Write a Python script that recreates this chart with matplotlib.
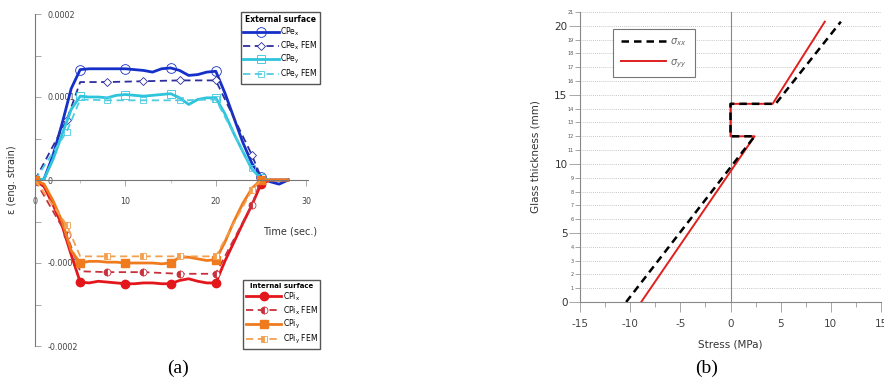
import numpy as np
import matplotlib
matplotlib.use("Agg")
import matplotlib.pyplot as plt

plt.rcParams['font.family'] = ['DejaVu Sans']
plt.rcParams['mathtext.default'] = 'regular'
plt.rcParams['axes.unicode_minus'] = False

# ---- panel (a) data : strain vs time ----
t_meas = list(range(29))
cpe_x = [0, 0.000001, 0.00003, 0.000068, 0.00011, 0.000133, 0.000134, 0.000134, 0.000134, 0.000134,
         0.000134, 0.000133, 0.000132, 0.00013, 0.000134, 0.000135, 0.000132, 0.000126, 0.000127, 0.00013,
         0.000131, 0.000105, 0.000075, 0.000045, 0.00002, 0.000004, -0.000002, -0.000005, 0]
cpe_y = [0, 0.000001, 0.000025, 0.000055, 0.000085, 0.000101, 0.0001, 0.0001, 0.000099, 0.000102,
         0.000103, 0.000102, 0.000101, 0.000102, 0.000103, 0.000104, 0.000099, 0.000091, 0.000097, 0.000099,
         0.000099, 0.00008, 0.000056, 0.000034, 0.000013, 0.000002, 0, 0, 0]
cpi_x = [0, -0.000008, -0.00003, -0.000055, -0.00009, -0.000123, -0.000124, -0.000122, -0.000123, -0.000124,
         -0.000125, -0.000125, -0.000124, -0.000124, -0.000125, -0.000125, -0.000121, -0.000119, -0.000122, -0.000124,
         -0.000124, -0.000098, -0.000075, -0.000052, -0.00003, -0.000005, 0, 0, 0]
cpi_y = [0, -0.000005, -0.000025, -0.00005, -0.000085, -0.0001, -0.000098, -0.000098, -0.000099, -0.000099,
         -0.0001, -0.0001, -0.0001, -0.0001, -0.000101, -0.0001, -0.000093, -0.000093, -0.000095, -0.000097,
         -0.000096, -0.000075, -0.00005, -0.000028, -0.00001, 0, 0, 0, 0]

t_fem = [0, 3.5, 5, 8, 12, 16, 20, 24, 25]
cpe_x_fem = [0, 0.000072, 0.000118, 0.000118, 0.000119, 0.00012, 0.00012, 0.00003, 0.000003]
cpe_y_fem = [0, 0.000058, 0.000097, 0.000096, 0.000096, 0.000096, 0.000097, 0.000014, 0]
cpi_x_fem = [0, -0.000066, -0.00011, -0.000111, -0.000111, -0.000113, -0.000113, -0.00003, 0]
cpi_y_fem = [0, -0.000054, -0.000092, -0.000092, -0.000092, -0.000092, -0.000092, -0.000012, 0]

# ---- panel (b) data : stress through glass thickness ----
thick = [0, 12, 12, 14.35, 14.35, 20.3]
sigma_xx = [-10.4, 2.4, 0, 0, 4.5, 11.0]
sigma_yy = [-8.9, 2.4, 0, 0, 4.2, 9.4]

W, H = 884, 383
fig = plt.figure(figsize=(W / 100, H / 100), dpi=100)

# ================= (a) =================
axa = fig.add_axes([35 / W, 1 - 346 / H, 273 / W, 332 / H])
axa.set_xlim(0, 30.2)
axa.set_ylim(-0.0002, 0.0002)
for s in ['top', 'right']:
    axa.spines[s].set_visible(False)
axa.spines['bottom'].set_position(('data', 0))
for s in ['left', 'bottom']:
    axa.spines[s].set_color('#777777')
    axa.spines[s].set_linewidth(0.8)
axa.set_axisbelow(True)

fem_marks = [1, 3, 4, 5, 6, 7]
blue, navy, cyan, cyan2 = '#1530C8', '#2E2E9E', '#2EC4DC', '#4FCDE3'
red, red2, orange, orange2 = '#E3161B', '#C8303C', '#F07B1E', '#F2A04E'

axa.plot(t_meas, cpe_x, color=blue, lw=2.0, marker='o', ms=7, mfc='none', mew=0.6,
         markevery=5, label='CPe$_x$')
axa.plot(t_fem, cpe_x_fem, color=navy, lw=1.3, ls=(0, (4, 2.5)), marker='D', ms=4, mfc='white',
         mew=0.6, markevery=fem_marks, label='CPe$_x$ FEM')
axa.plot(t_meas, cpe_y, color=cyan, lw=2.0, marker='s', ms=6, mfc='none', mew=0.6,
         markevery=5, label='CPe$_y$')
axa.plot(t_fem, cpe_y_fem, color=cyan2, lw=1.3, ls=(0, (4, 2.5)), marker='s', ms=5, mfc='none',
         mew=0.6, markevery=fem_marks, label='CPe$_y$ FEM')

l_int = []
l_int += axa.plot(t_meas, cpi_x, color=red, lw=2.0, marker='o', ms=6, markevery=5, label='CPi$_x$')
l_int += axa.plot(t_fem, cpi_x_fem, color=red2, lw=1.3, ls=(0, (4, 2.5)), marker='o', ms=5,
                  fillstyle='left', mfcalt='white', mew=0.6, markevery=fem_marks, label='CPi$_x$ FEM')
l_int += axa.plot(t_meas, cpi_y, color=orange, lw=2.0, marker='s', ms=6, markevery=5, label='CPi$_y$')
l_int += axa.plot(t_fem, cpi_y_fem, color=orange2, lw=1.3, ls=(0, (4, 2.5)), marker='s', ms=5,
                  fillstyle='left', mfcalt='white', mew=0.6, markevery=fem_marks, label='CPi$_y$ FEM')

axa.set_yticks([-0.0002, -0.0001, 0, 0.0001, 0.0002],
               labels=['-0.0002', '-0.0001', '0', '0.0001', '0.0002'])
axa.set_yticks([-0.00015, -0.00005, 0.00005, 0.00015], minor=True)
axa.tick_params(axis='y', which='both', direction='in', length=4, width=0.6, color='#999999',
                pad=-9, labelsize=5.8, labelcolor='#444444')
for lb in axa.get_yticklabels():
    lb.set_horizontalalignment('left')
axa.set_xticks([0, 10, 20, 30])
axa.set_xticks([5, 15, 25], minor=True)
axa.tick_params(axis='x', which='major', direction='out', length=4, width=0.6, color='#999999',
                pad=8, labelsize=5.8, labelcolor='#444444')
axa.tick_params(axis='x', which='minor', direction='out', length=2, width=0.6, color='#bbbbbb')

axa.set_xlabel('Time (sec.)', fontsize=7, color='#333333')
axa.xaxis.set_label_coords(0.934, 0.36)
axa.set_ylabel('ε (eng. strain)', fontsize=7, color='#333333')
axa.yaxis.set_label_coords(-0.065, 0.5)

leg_kw = dict(loc='upper right', fontsize=5.5, handlelength=4.6, handletextpad=0.2,
              labelspacing=0.2, borderpad=0.35, fancybox=False, edgecolor='#555555',
              framealpha=1, borderaxespad=0)
h_ext, lab_ext = axa.get_legend_handles_labels()
leg1 = axa.legend(h_ext[:4], lab_ext[:4], title='External surface', bbox_to_anchor=(1.045, 1.006),
                  title_fontproperties={'weight': 'bold', 'size': 5.5}, **leg_kw)
leg1.get_frame().set_linewidth(1.0)
axa.add_artist(leg1)
leg2 = axa.legend(l_int, [l.get_label() for l in l_int], title='Internal surface',
                  bbox_to_anchor=(1.045, 0.199),
                  title_fontproperties={'weight': 'bold', 'size': 5}, **leg_kw)
leg2.get_frame().set_linewidth(1.0)

# ================= (b) =================
axb = fig.add_axes([580 / W, 1 - 302 / H, 301 / W, 290 / H])
axb.set_xlim(-15, 15)
axb.set_ylim(0, 21)
for s in ['top', 'right']:
    axb.spines[s].set_visible(False)
for s in ['left', 'bottom']:
    axb.spines[s].set_color('#888888')
    axb.spines[s].set_linewidth(0.8)

major_y = [0, 5, 10, 15, 20]
minor_y = [v for v in range(1, 22) if v % 5 != 0]
axb.set_yticks(major_y, labels=[str(v) for v in major_y])
axb.set_yticks(minor_y, labels=[str(v) for v in minor_y], minor=True)
axb.tick_params(axis='y', which='major', length=8, width=0.6, color='#999999', labelsize=7.5,
                labelcolor='#333333', pad=1)
axb.tick_params(axis='y', which='minor', length=3.5, width=0.6, color='#999999', labelsize=3.5,
                labelcolor='#555555', pad=1)
axb.set_xticks([-15, -10, -5, 0, 5, 10, 15])
axb.set_xticks(np.arange(-12.5, 15, 5), minor=True)
axb.tick_params(axis='x', which='major', length=7, width=0.6, color='#999999', labelsize=7.5,
                labelcolor='#444444', pad=5)
axb.tick_params(axis='x', which='minor', length=3.5, width=0.6, color='#999999')
axb.yaxis.grid(True, which='both', linestyle=(0, (1, 1.5)), color='#b5b5b5', linewidth=0.6)
axb.set_axisbelow(True)
axb.axvline(0, color='#888888', lw=0.8, zorder=1)

axb.plot(sigma_yy, thick, color='#E0201E', lw=1.4, label=r'$\mathit{\sigma}_{\mathit{yy}}$', zorder=3)
axb.plot(sigma_xx, thick, color='black', lw=1.8, ls=(0, (3, 2)), label=r'$\mathit{\sigma}_{\mathit{xx}}$', zorder=4)
hb, lbb = axb.get_legend_handles_labels()
legb = axb.legend(hb[::-1], lbb[::-1], loc='upper left', bbox_to_anchor=(0.11, 0.943), fontsize=7,
                  handlelength=4.6, handletextpad=0.5, labelspacing=0.9, borderpad=0.8,
                  fancybox=False, edgecolor='#777777', framealpha=1, borderaxespad=0, labelcolor='#666666')
legb.get_frame().set_linewidth(0.8)

axb.set_xlabel('Stress (MPa)', fontsize=7.5, color='#333333')
axb.xaxis.set_label_coords(0.5, -0.13)
axb.set_ylabel('Glass thickness (mm)', fontsize=7.5, color='#333333')
axb.yaxis.set_label_coords(-0.13, 0.5)

fig.text(178 / W, 1 - 368 / H, '(a)', ha='center', va='center', family='Liberation Serif', size=14)
fig.text(707 / W, 1 - 368 / H, '(b)', ha='center', va='center', family='Liberation Serif', size=14)

fig.savefig('out.png', dpi=100)
